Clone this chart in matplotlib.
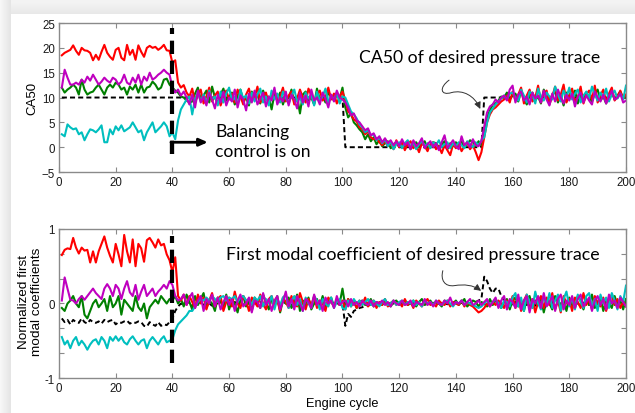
import numpy as np
import matplotlib
matplotlib.use('Agg')
import matplotlib.pyplot as plt
from matplotlib.path import Path
from matplotlib.patches import FancyArrowPatch

# engine cycles 1..200
cycle = list(range(1, 201))

# ---- CA50 (top panel) ----
ca50_red = [
    18.5, 19.0, 19.3, 19.6, 20.5, 19.4, 18.6, 20.0, 19.5, 19.4, 19.0, 17.5, 18.6, 17.6, 19.2, 20.6, 19.0, 18.2, 17.6, 19.6,
    20.0, 18.0, 17.5, 20.6, 18.6, 19.6, 17.6, 20.5, 19.2, 18.2, 20.0, 20.4, 20.0, 20.2, 19.6, 20.0, 20.6, 19.5, 19.4, 17.0,
    17.5, 13.0, 12.0, 12.5, 11.0, 10.2, 11.8, 9.0, 10.5, 11.6, 8.8, 10.2, 12.0, 9.2, 10.4, 11.2, 8.4, 10.0, 11.4, 9.6,
    10.8, 9.0, 11.6, 10.2, 8.6, 10.6, 11.8, 9.4, 10.0, 12.2, 9.0, 10.4, 11.0, 8.8, 10.6, 11.4, 9.6, 10.2, 12.0, 9.2,
    10.4, 11.2, 8.6, 9.8, 11.6, 10.0, 9.0, 11.8, 10.4, 8.8, 10.6, 11.4, 9.4, 10.0, 12.0, 9.6, 10.8, 8.8, 10.2, 11.2,
    9.4, 7.2, 6.6, 5.6, 5.2, 4.0, 3.6, 2.6, 3.2, 2.0, 1.6, 1.8, 1.0, 0.4, 1.2, 0.2, 0.8, -0.4, 1.4, 0.0,
    1.0, -0.6, 0.6, 1.2, -0.2, 0.4, -1.0, 0.8, 0.2, -0.8, 0.6, 1.0, -0.4, 0.2, -1.2, 0.4, -0.6, -1.6, 0.6, -0.2,
    0.8, -0.8, 0.2, 1.0, -0.4, 0.4, -1.0, -2.6, -1.0, 2.0, 5.0, 6.6, 7.6, 8.0, 8.6, 9.2, 9.6, 10.4, 9.0, 11.2,
    9.4, 10.6, 12.0, 8.8, 10.4, 11.6, 9.2, 10.0, 12.4, 9.0, 10.8, 11.4, 8.6, 10.2, 12.2, 9.4, 10.6, 12.6, 9.0, 10.4,
    11.8, 9.2, 10.0, 12.2, 8.8, 10.6, 11.4, 9.6, 12.4, 9.0, 10.4, 11.6, 9.2, 10.8, 12.0, 9.4, 10.2, 11.4, 9.8, 10.6]
ca50_magenta = [
    12.0, 15.6, 14.0, 12.6, 12.6, 13.0, 12.6, 13.6, 13.0, 14.2, 13.4, 14.6, 13.6, 12.6, 13.2, 14.0, 13.4, 13.0, 14.0, 13.6,
    12.6, 13.2, 14.6, 13.0, 12.6, 14.0, 13.0, 14.6, 12.6, 14.2, 13.4, 15.0, 13.6, 14.0, 14.6, 15.0, 15.6, 15.0, 14.6, 12.0,
    11.0, 11.6, 10.4, 11.2, 10.0, 8.6, 10.6, 8.0, 11.4, 9.0, 10.2, 8.4, 11.0, 9.6, 7.8, 10.6, 9.0, 11.2, 8.4, 10.0,
    9.2, 11.6, 8.0, 10.4, 9.6, 7.4, 10.8, 9.0, 11.4, 8.6, 9.8, 11.0, 8.2, 10.2, 9.4, 12.0, 8.6, 10.0, 9.2, 11.2,
    8.4, 10.6, 9.6, 7.8, 11.0, 9.0, 10.4, 8.2, 11.6, 9.4, 10.0, 8.6, 11.0, 9.8, 8.0, 10.6, 9.2, 11.4, 10.0, 9.6,
    9.0, 8.0, 6.4, 6.8, 5.4, 5.0, 4.2, 3.4, 3.8, 2.4, 2.8, 1.6, 2.2, 1.0, 1.8, 0.8, 1.4, 0.4, 1.2, 0.2,
    1.6, 0.4, 1.0, -0.4, 1.4, 0.2, 0.8, 1.8, -0.2, 0.6, 1.2, 0.0, 0.8, -0.6, 1.0, 2.4, -0.2, 0.6, 1.4, 0.2,
    -0.4, 2.2, 0.4, 1.0, 0.0, 1.6, 0.4, 0.2, 1.2, 4.2, 7.0, 8.2, 8.6, 9.6, 9.0, 10.0, 10.4, 9.4, 11.6, 12.4,
    9.0, 10.6, 11.2, 9.4, 10.2, 8.6, 11.0, 9.8, 10.4, 9.0, 11.4, 9.6, 8.4, 10.8, 9.2, 11.6, 10.0, 8.8, 10.6, 9.4,
    10.8, 8.2, 10.2, 11.0, 9.0, 10.4, 9.4, 8.6, 11.2, 10.0, 9.2, 10.6, 8.8, 10.2, 11.4, 9.6, 10.0, 10.8, 9.0, 9.4]
ca50_green = [
    12.0, 11.0, 11.6, 12.0, 12.6, 12.0, 10.6, 13.6, 11.6, 10.6, 11.0, 11.2, 12.0, 12.6, 11.6, 10.6, 12.0, 12.6, 12.0, 13.0,
    12.6, 11.6, 12.0, 10.6, 12.2, 11.6, 12.6, 11.0, 12.6, 11.0, 12.0, 12.2, 13.2, 12.6, 11.6, 12.0, 13.6, 13.8, 12.6, 12.0,
    11.4, 11.0, 10.2, 10.0, 9.4, 9.0, 9.2, 10.8, 12.0, 9.6, 10.4, 11.4, 9.0, 12.2, 10.0, 8.8, 10.6, 11.8, 9.4, 10.2,
    11.0, 8.6, 10.4, 11.6, 9.2, 10.0, 8.4, 11.2, 9.8, 10.6, 8.8, 11.4, 9.6, 10.2, 7.6, 10.8, 9.4, 11.0, 8.6, 10.4,
    9.8, 11.6, 9.0, 10.2, 6.8, 10.6, 11.2, 9.4, 10.0, 8.6, 11.8, 9.6, 10.4, 9.0, 11.0, 10.2, 9.4, 10.8, 9.8, 12.0,
    8.0, 6.0, 6.8, 5.0, 4.4, 3.6, 3.0, 1.6, 2.6, 1.2, 2.0, 0.6, 1.4, 0.2, 0.8, 1.2, -0.2, 0.6, 1.0, 0.0,
    0.8, 0.2, 1.2, -0.4, 0.6, 1.0, 0.0, 0.6, 1.2, -0.2, 0.4, 1.0, 0.8, 0.0, 0.6, 1.2, -0.4, 0.8, 0.2, 1.0,
    0.4, 1.2, 0.0, 0.6, 1.4, 1.0, 0.2, 1.2, 0.4, 3.0, 6.0, 7.4, 8.6, 8.8, 9.4, 10.2, 10.0, 11.0, 9.6, 10.4,
    10.8, 9.2, 11.4, 9.8, 8.6, 10.4, 11.0, 9.4, 10.2, 8.8, 11.6, 10.0, 9.2, 10.6, 11.2, 9.0, 10.4, 8.4, 11.0, 9.8,
    10.2, 11.4, 8.8, 10.6, 9.6, 11.0, 10.0, 9.2, 10.8, 11.6, 9.4, 10.2, 8.8, 10.6, 11.0, 9.6, 10.4, 11.2, 9.8, 10.2]
ca50_cyan = [
    2.6, 2.2, 4.6, 4.0, 3.6, 3.8, 2.6, 3.0, 1.4, 2.6, 3.6, 3.4, 3.0, 3.6, 4.4, 1.0, 1.0, 3.6, 2.6, 4.2,
    3.4, 4.4, 3.2, 3.6, 4.0, 5.0, 4.0, 3.0, 3.4, 1.4, 3.0, 4.0, 5.0, 3.0, 3.6, 4.2, 5.0, 4.2, 2.2, 3.0,
    1.6, 5.4, 7.6, 8.6, 9.6, 10.2, 6.6, 9.8, 11.0, 9.2, 10.6, 8.8, 11.4, 9.6, 10.2, 8.4, 11.2, 9.0, 10.8, 12.0,
    9.4, 10.0, 8.6, 11.6, 9.8, 10.4, 8.8, 11.0, 9.2, 10.6, 11.8, 9.0, 10.2, 8.4, 11.4, 9.6, 10.8, 9.0, 11.2, 10.0,
    8.8, 10.4, 11.6, 9.2, 10.0, 8.6, 11.0, 9.8, 10.6, 8.4, 11.2, 9.4, 10.2, 11.8, 9.0, 10.4, 9.6, 11.0, 8.8, 10.2,
    10.0, 8.6, 7.2, 6.6, 5.8, 4.6, 4.0, 3.0, 3.4, 2.4, 2.6, 1.4, 2.0, 0.8, 1.6, 0.2, 1.2, -0.4, 0.6, 1.0,
    -0.2, 0.8, 1.4, 0.0, 1.0, -0.4, 0.6, 1.2, 0.2, 0.8, -0.2, 1.0, 0.4, 1.4, 0.0, 0.6, 1.0, -0.2, 0.8, 0.2,
    1.0, 0.4, -0.2, 1.2, 0.6, 0.0, 1.0, 0.4, 1.4, 2.0, 5.0, 7.0, 7.8, 8.6, 9.2, 9.8, 10.4, 9.6, 10.8, 11.0,
    10.0, 9.4, 11.6, 10.4, 9.0, 11.2, 10.6, 8.8, 11.8, 10.0, 9.4, 11.0, 10.2, 9.6, 12.2, 10.6, 9.2, 11.4, 10.0, 12.0,
    9.6, 10.8, 11.6, 9.0, 10.4, 11.2, 9.8, 12.2, 10.6, 9.4, 11.0, 10.0, 11.8, 9.2, 10.6, 11.4, 9.8, 10.8, 9.6, 12.4]
# desired CA50 (step trace, vertices)
desired_cycle = [1, 100, 101, 149, 150, 200]
desired_ca50 = [10, 10, 0, 0, 10, 10]

# ---- normalized first modal coefficients (bottom panel) ----
mod_red = [
    0.65, 0.72, 0.74, 0.73, 0.88, 0.75, 0.67, 0.75, 0.71, 0.72, 0.55, 0.70, 0.55, 0.70, 0.80, 0.90, 0.75, 0.64, 0.55, 0.80,
    0.66, 0.50, 0.92, 0.70, 0.55, 0.86, 0.50, 0.80, 0.74, 0.56, 0.85, 0.88, 0.82, 0.75, 0.86, 0.78, 0.80, 0.66, 0.58, 0.42,
    0.62, 0.10, 0.04, 0.12, -0.02, 0.10, 0.02, -0.06, 0.12, 0.00, 0.08, -0.08, 0.04, 0.14, -0.04, 0.06, 0.10, -0.10, 0.02, 0.08,
    -0.04, 0.16, 0.00, -0.06, 0.10, 0.04, -0.10, 0.08, 0.02, -0.04, 0.12, 0.00, -0.08, 0.06, 0.10, -0.02, 0.04, -0.10, 0.08, 0.02,
    -0.06, 0.10, 0.00, -0.04, 0.14, 0.02, -0.08, 0.06, -0.02, 0.10, -0.06, 0.04, 0.00, -0.10, 0.08, 0.02, -0.04, 0.06, -0.02, 0.04,
    -0.08, 0.06, -0.04, 0.02, -0.06, 0.04, -0.02, 0.08, -0.04, 0.00, 0.04, -0.06, 0.02, -0.02, 0.06, -0.04, 0.00, 0.04, -0.02, 0.02,
    -0.04, 0.06, -0.02, 0.02, -0.06, 0.04, 0.00, -0.04, 0.02, 0.06, -0.02, 0.00, -0.04, 0.04, 0.00, -0.02, 0.04, -0.04, 0.02, 0.00,
    -0.02, 0.04, -0.04, 0.02, -0.02, -0.04, -0.08, -0.12, -0.10, -0.06, 0.00, -0.04, 0.02, -0.02, 0.04, 0.00, -0.06, 0.04, -0.02, 0.10,
    -0.06, 0.08, -0.10, 0.04, 0.12, -0.04, 0.06, -0.12, 0.02, 0.10, -0.06, 0.08, -0.02, 0.14, -0.08, 0.04, -0.12, 0.10, 0.00, 0.06,
    -0.10, 0.08, 0.02, -0.06, 0.14, -0.02, 0.06, -0.08, 0.10, 0.00, -0.04, 0.08, -0.10, 0.04, 0.12, -0.02, 0.06, -0.06, 0.02, -0.04]
mod_magenta = [
    0.04, 0.35, 0.20, 0.05, 0.04, 0.00, 0.06, 0.10, 0.05, 0.10, 0.15, 0.20, 0.14, 0.10, 0.06, 0.20, 0.26, 0.20, 0.10, 0.25,
    0.20, 0.06, 0.20, 0.30, 0.15, 0.10, 0.25, 0.05, 0.16, 0.25, 0.10, 0.15, 0.20, 0.10, 0.16, 0.20, 0.25, 0.20, 0.30, 0.25,
    0.10, 0.04, 0.06, 0.12, -0.02, 0.08, 0.14, -0.06, 0.04, 0.10, -0.10, 0.06, 0.00, 0.12, -0.04, 0.08, -0.08, 0.02, 0.10, -0.02,
    0.06, -0.10, 0.04, 0.12, -0.04, 0.00, 0.08, -0.12, 0.04, 0.02, -0.06, 0.14, -0.02, 0.06, -0.10, 0.04, 0.10, -0.08, 0.02, 0.16,
    -0.04, 0.06, -0.08, 0.10, 0.00, -0.10, 0.06, 0.02, -0.06, 0.12, -0.02, 0.04, -0.10, 0.08, 0.00, 0.04, -0.06, 0.10, -0.02, 0.02,
    0.04, -0.04, 0.06, -0.02, 0.02, -0.04, 0.04, 0.00, -0.02, 0.04, -0.04, 0.02, 0.00, 0.04, -0.02, 0.02, -0.04, 0.04, 0.00, -0.02,
    0.04, -0.02, 0.00, 0.04, -0.04, 0.02, 0.00, -0.02, 0.06, -0.02, 0.02, -0.04, 0.04, 0.00, -0.02, 0.04, 0.00, 0.08, -0.02, 0.02,
    0.00, 0.04, -0.02, 0.02, 0.06, -0.02, 0.00, 0.04, -0.02, 0.02, 0.06, -0.04, 0.02, 0.08, -0.06, 0.04, 0.10, -0.08, 0.06, 0.02,
    -0.06, 0.12, -0.08, 0.04, 0.10, -0.12, 0.06, 0.00, 0.10, -0.06, 0.14, -0.04, 0.02, 0.10, -0.10, 0.06, 0.12, -0.08, 0.04, -0.02,
    0.10, -0.06, 0.06, 0.12, -0.04, 0.02, 0.08, -0.10, 0.04, 0.10, -0.02, 0.06, -0.08, 0.12, 0.00, 0.04, -0.06, 0.08, 0.02, -0.04]
mod_green = [
    -0.06, -0.10, 0.00, 0.04, 0.10, 0.00, -0.05, 0.10, -0.15, -0.20, -0.10, 0.00, 0.05, -0.05, 0.00, 0.06, -0.10, 0.10, -0.05, 0.00,
    0.10, -0.15, 0.05, 0.00, -0.05, -0.10, 0.10, -0.05, -0.10, 0.00, -0.20, -0.05, 0.00, 0.05, 0.00, 0.10, 0.05, 0.00, 0.06, 0.04,
    0.10, 0.00, 0.06, -0.04, 0.12, 0.02, -0.08, 0.10, -0.02, 0.06, 0.14, -0.06, 0.04, 0.00, -0.10, 0.08, 0.02, -0.04, 0.12, -0.08,
    0.04, 0.00, -0.12, 0.06, 0.10, -0.04, 0.02, -0.10, 0.08, 0.00, -0.06, 0.12, 0.02, -0.08, 0.06, -0.02, 0.10, -0.12, 0.04, 0.00,
    0.08, -0.06, 0.02, 0.12, -0.10, 0.04, -0.02, 0.08, -0.08, 0.00, 0.06, -0.04, 0.10, -0.06, 0.02, 0.08, -0.04, 0.04, 0.00, 0.20,
    -0.04, 0.06, -0.02, 0.04, -0.06, 0.02, 0.04, -0.02, 0.00, 0.06, -0.04, 0.02, 0.00, -0.02, 0.04, 0.00, -0.04, 0.02, 0.04, -0.02,
    0.02, 0.04, -0.02, 0.00, 0.04, -0.04, 0.02, 0.06, -0.02, 0.00, 0.04, -0.02, 0.02, 0.00, -0.04, 0.04, 0.02, -0.02, 0.00, 0.04,
    -0.02, 0.02, 0.06, -0.04, 0.00, 0.04, 0.02, -0.04, 0.02, 0.00, -0.04, 0.06, -0.02, 0.04, 0.00, -0.06, 0.02, 0.06, -0.08, 0.04,
    0.08, -0.04, 0.02, -0.10, 0.06, 0.10, -0.06, 0.04, -0.02, 0.08, -0.12, 0.04, 0.00, -0.08, 0.10, 0.02, -0.04, 0.06, -0.10, 0.08,
    0.00, -0.06, 0.10, 0.04, -0.08, 0.06, -0.02, 0.12, -0.06, 0.02, 0.08, -0.10, 0.04, 0.00, -0.06, 0.10, -0.02, 0.04, -0.08, 0.06]
mod_cyan = [
    -0.45, -0.55, -0.50, -0.60, -0.50, -0.45, -0.56, -0.50, -0.55, -0.62, -0.55, -0.50, -0.48, -0.55, -0.45, -0.50, -0.60, -0.45, -0.50, -0.44,
    -0.50, -0.45, -0.52, -0.55, -0.48, -0.44, -0.50, -0.55, -0.50, -0.48, -0.60, -0.50, -0.45, -0.50, -0.55, -0.48, -0.44, -0.52, -0.50, -0.48,
    -0.36, -0.28, -0.24, -0.20, -0.16, -0.10, -0.10, -0.04, 0.02, 0.06, 0.04, 0.08, 0.04, 0.10, 0.06, 0.02, 0.08, 0.10, 0.04, 0.08,
    0.06, 0.10, 0.02, 0.08, 0.10, 0.04, 0.06, -0.02, 0.08, 0.04, 0.10, -0.04, 0.06, 0.00, 0.10, -0.08, 0.06, -0.02, 0.08, 0.12,
    -0.06, 0.04, 0.10, -0.02, 0.06, -0.10, 0.08, 0.00, -0.06, 0.10, 0.04, -0.08, 0.06, 0.00, -0.04, 0.08, -0.06, 0.02, 0.06, -0.06,
    -0.08, 0.04, -0.04, 0.06, 0.00, 0.04, -0.02, 0.02, 0.06, -0.02, 0.04, 0.00, -0.04, 0.02, 0.06, -0.02, 0.00, 0.04, -0.02, 0.02,
    0.04, -0.02, 0.02, 0.00, 0.04, -0.02, 0.02, -0.04, 0.04, 0.00, 0.02, -0.02, 0.04, 0.00, -0.02, 0.02, 0.04, 0.00, -0.04, 0.02,
    0.00, 0.04, -0.02, 0.02, 0.00, -0.02, -0.04, -0.06, -0.04, 0.00, 0.04, -0.02, 0.02, 0.06, 0.00, -0.06, 0.04, 0.02, -0.04, 0.08,
    0.14, -0.04, 0.08, -0.10, 0.12, 0.02, -0.06, 0.16, 0.00, -0.08, 0.10, -0.02, 0.14, -0.06, 0.04, 0.12, -0.10, 0.06, 0.16, -0.04,
    0.08, -0.08, 0.12, 0.02, -0.06, 0.10, 0.14, -0.04, 0.06, -0.10, 0.12, 0.00, 0.08, -0.06, 0.14, 0.04, -0.08, 0.10, 0.02, 0.24]
mod_desired = [
    -0.20, -0.25, -0.22, -0.28, -0.22, -0.25, -0.26, -0.20, -0.25, -0.27, -0.22, -0.25, -0.26, -0.24, -0.27, -0.22, -0.25, -0.23, -0.22, -0.28,
    -0.25, -0.26, -0.24, -0.23, -0.27, -0.25, -0.26, -0.24, -0.25, -0.30, -0.31, -0.25, -0.28, -0.30, -0.25, -0.30, -0.28, -0.29, -0.25, -0.20,
    -0.10, -0.04, 0.00, -0.02, 0.02, 0.00, -0.03, 0.02, 0.00, 0.03, -0.02, 0.01, 0.00, -0.03, 0.02, 0.00, 0.03, -0.02, 0.01, 0.00,
    -0.02, 0.02, 0.00, 0.03, -0.02, 0.00, 0.02, -0.03, 0.01, 0.00, 0.02, -0.02, 0.00, 0.03, -0.01, 0.02, 0.00, -0.03, 0.02, 0.00,
    0.02, -0.02, 0.01, 0.00, 0.03, -0.02, 0.00, 0.02, -0.01, 0.00, 0.03, -0.02, 0.01, 0.00, -0.02, 0.02, 0.00, 0.01, -0.02, 0.00,
    -0.30, -0.14, -0.18, -0.10, -0.08, -0.06, -0.05, -0.03, -0.02, -0.02, 0.00, -0.01, 0.00, 0.01, -0.01, 0.00, 0.01, 0.00, -0.01, 0.00,
    0.01, 0.00, -0.01, 0.00, 0.01, 0.00, 0.00, -0.01, 0.01, 0.00, 0.00, 0.01, -0.01, 0.00, 0.01, 0.00, -0.01, 0.00, 0.01, 0.00,
    0.00, 0.01, -0.01, 0.00, 0.01, 0.00, 0.02, 0.04, 0.06, 0.36, 0.30, 0.20, 0.14, 0.20, 0.20, 0.10, 0.04, 0.02, 0.00, -0.02,
    0.02, -0.03, 0.00, 0.03, -0.02, 0.01, 0.00, -0.03, 0.02, 0.00, 0.03, -0.02, 0.00, 0.02, -0.03, 0.01, 0.00, -0.02, 0.03, 0.00,
    -0.02, 0.02, 0.00, -0.03, 0.01, 0.02, -0.02, 0.00, 0.03, -0.01, 0.00, 0.02, -0.03, 0.01, 0.00, -0.02, 0.02, 0.00, -0.01, 0.02]

x_ticks = [0, 20, 40, 60, 80, 100, 120, 140, 160, 180, 200]
ca50_ticks = [-5, 0, 5, 10, 15, 20, 25]
mod_ticks = [-1, -2/3, -1/3, 0, 1/3, 2/3, 1]
mod_ticklabels = ['-1', '', '', '0', '', '', '1']

RED = '#ff0000'
GREEN = '#008000'
CYAN = '#00bfbf'
MAGENTA = '#bf00bf'
NOTE_FONT = ['Lato', 'DejaVu Sans']

plt.rcParams['font.family'] = ['Liberation Sans', 'DejaVu Sans']
fig = plt.figure(figsize=(6.35, 4.14), dpi=100)

# card background with a soft shadow on the left and top
bg = np.ones((414, 635))
for c in range(11):
    bg[:, c] = 0.965 - 0.07 * c / 10.0
for r in range(15):
    bg[r, 11:] = np.minimum(bg[r, 11:], 0.96 - 0.05 * r / 14.0)
bax = fig.add_axes([0, 0, 1, 1], zorder=-10)
bax.imshow(bg, cmap='gray', vmin=0, vmax=1, aspect='auto', interpolation='bilinear')
bax.axis('off')

ax1 = fig.add_axes([0.0929, 0.582, 0.8929, 0.360])
ax2 = fig.add_axes([0.0929, 0.0845, 0.8929, 0.360])


def style(ax):
    ax.set_facecolor('white')
    for s in ax.spines.values():
        s.set_color('#8a8a8a')
        s.set_linewidth(1.0)
    ax.tick_params(direction='in', top=True, right=True, length=3.5,
                   width=0.8, color='#8a8a8a', labelsize=8.3, labelcolor='#1a1a1a', pad=3)
    ax.set_xlim(0, 200)
    ax.set_xticks(x_ticks)


lw = 1.5
# top panel
style(ax1)
ax1.plot(desired_cycle, desired_ca50, color='k', lw=1.4, dashes=(2.6, 1.6))
ax1.plot(cycle, ca50_green, color=GREEN, lw=lw)
ax1.plot(cycle, ca50_red, color=RED, lw=lw)
ax1.plot(cycle, ca50_cyan, color=CYAN, lw=lw)
ax1.plot(cycle, ca50_magenta, color=MAGENTA, lw=lw)
ax1.set_ylim(-5, 25)
ax1.set_yticks(ca50_ticks)
ax1.set_ylabel('CA50', fontsize=9.5)
ax1.yaxis.set_label_coords(-0.037, 0.5)
ax1.plot([40, 40], [-1.4, 24], color='k', lw=3, dashes=(3.2, 1.6), solid_capstyle='butt')
ax1.annotate('', xy=(52.5, 1.0), xytext=(39.5, 1.0),
             arrowprops=dict(arrowstyle='-|>,head_length=0.5,head_width=0.22', color='k', lw=2.0,
                             shrinkA=0, shrinkB=0))
ax1.plot([40, 40], [-1.4, 1.0], color='k', lw=3, solid_capstyle='butt')
ax1.text(55, 1.3, 'Balancing\ncontrol is on', family=NOTE_FONT, fontsize=12.6,
         va='center', ha='left', linespacing=1.28)
ax1.text(106, 18.2, 'CA50 of desired pressure trace', family=NOTE_FONT,
         fontsize=12.7, va='center', ha='left')
p1 = Path([(137.6, 13.5), (134.0, 12.0), (134.5, 10.3), (138.5, 11.0),
           (142.5, 11.6), (146.5, 10.4), (148.6, 7.7)],
          [Path.MOVETO, Path.CURVE4, Path.CURVE4, Path.CURVE4, Path.CURVE4, Path.CURVE4, Path.CURVE4])
ax1.add_patch(FancyArrowPatch(path=p1, arrowstyle='-|>,head_length=4,head_width=2',
                              color='#333333', lw=0.7))

# bottom panel
style(ax2)
ax2.plot(cycle, mod_desired, color='k', lw=1.4, dashes=(2.6, 1.6))
ax2.plot(cycle, mod_green, color=GREEN, lw=lw)
ax2.plot(cycle, mod_red, color=RED, lw=lw)
ax2.plot(cycle, mod_cyan, color=CYAN, lw=lw)
ax2.plot(cycle, mod_magenta, color=MAGENTA, lw=lw)
ax2.set_ylim(-1, 1)
ax2.set_yticks(mod_ticks)
ax2.set_yticklabels(mod_ticklabels)
ax2.set_ylabel('Normalized first\nmodal coefficients', fontsize=9.7, linespacing=1.1)
ax2.yaxis.set_label_coords(-0.028, 0.52)
ax2.set_xlabel('Engine cycle', fontsize=9.2)
ax2.xaxis.set_label_coords(0.5, -0.125)
ax2.plot([40, 40], [-0.8, 0.9], color='k', lw=3, dashes=(3.2, 1.6), solid_capstyle='butt')
ax2.text(58.9, 0.66, 'First modal coefficient of desired pressure trace',
         family=NOTE_FONT, fontsize=12.8, va='center', ha='left')
p2 = Path([(135.4, 0.44), (134.5, 0.32), (136.0, 0.22), (139.5, 0.24),
           (143.0, 0.26), (146.0, 0.25), (148.9, 0.17)],
          [Path.MOVETO, Path.CURVE4, Path.CURVE4, Path.CURVE4, Path.CURVE4, Path.CURVE4, Path.CURVE4])
ax2.add_patch(FancyArrowPatch(path=p2, arrowstyle='-|>,head_length=4,head_width=2',
                              color='#333333', lw=0.7))

fig.savefig('out.png', dpi=100)
